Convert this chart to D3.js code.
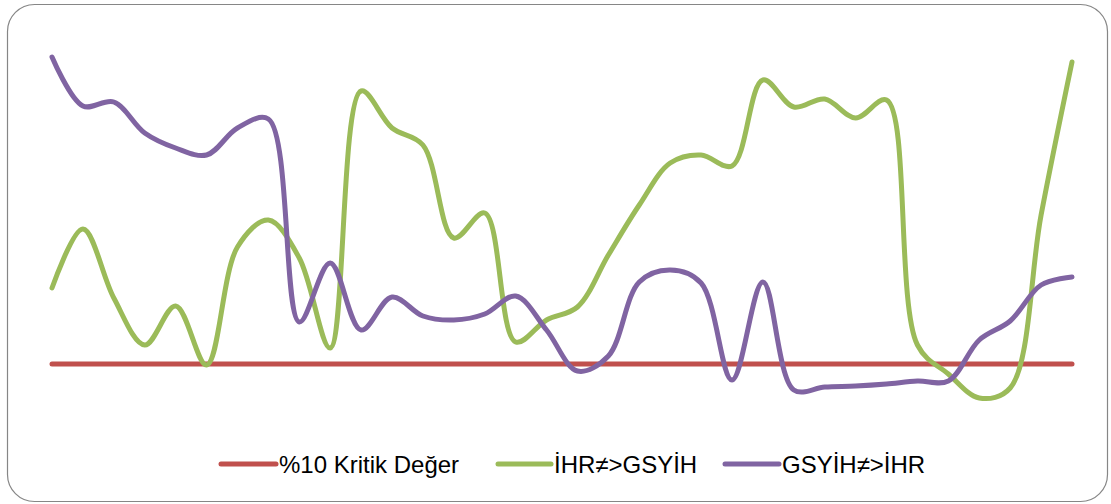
<!DOCTYPE html>
<html>
<head>
<meta charset="utf-8">
<script src="https://cdn.jsdelivr.net/npm/d3@7"></script>
<style>
  html, body { margin: 0; padding: 0; background: #fff; }
  svg { display: block; }
</style>
</head>
<body>
<svg id="chart" width="1111" height="504"></svg>
<script>
// ---- data (the value axis is hidden in the original) ----
const categories = d3.range(1, 35).map(String); // 34 periods
const critical10 = [5.0,5.0,5.0,5.0,5.0,5.0,5.0,5.0,5.0,5.0,5.0,5.0,5.0,5.0,5.0,5.0,5.0,
                    5.0,5.0,5.0,5.0,5.0,5.0,5.0,5.0,5.0,5.0,5.0,5.0,5.0,5.0,5.0,5.0,5.0];
const ihrToGsyih = [12.6,18.5,11.6,6.9,10.8,4.9,16.7,19.4,15.6,6.6,32.3,28.6,26.9,17.6,20.1,7.2,9.4,
                    10.7,15.9,20.9,25.1,25.9,24.8,33.4,30.7,31.5,29.6,31.4,6.9,4.0,1.6,2.6,19.9,35.2];
const gsyihToIhr = [35.7,30.8,31.2,28.1,26.6,25.9,28.6,29.5,9.2,15.1,8.4,11.7,9.8,9.4,10.0,11.8,8.4,
                    4.3,5.8,13.2,14.4,13.1,3.4,13.2,2.4,2.7,2.8,3.0,3.3,3.3,7.4,9.3,12.9,13.7];
const seriesNames = ["%10 Kritik Değer", "İHR≠>GSYİH", "GSYİH≠>İHR"];
const seriesColors = ["#C0504D", "#9BBB59", "#8064A2"];

const series = [critical10, ihrToGsyih, gsyihToIhr];

const svg = d3.select("#chart");

// outer chart border
svg.append("rect")
  .attr("x", 7.5).attr("y", 4.5)
  .attr("width", 1100).attr("height", 497)
  .attr("rx", 27).attr("ry", 27)
  .attr("fill", "#fff")
  .attr("stroke", "#868686")
  .attr("stroke-width", 1.2);

const x = d3.scalePoint().domain(categories).range([52, 1072]);
const y = d3.scaleLinear().domain([0, 37]).range([414, 44]);

const line = d3.line()
  .x((d, i) => x(categories[i]))
  .y(d => y(d))
  .curve(d3.curveCatmullRom.alpha(0.5));

const g = svg.append("g");
series.forEach((s, k) => {
  g.append("path")
    .datum(s)
    .attr("d", line)
    .attr("fill", "none")
    .attr("stroke", seriesColors[k])
    .attr("stroke-width", 5)
    .attr("stroke-linecap", "round")
    .attr("stroke-linejoin", "round");
});

// legend
const legendItems = [
  { x0: 221, x1: 276, tx: 279 },
  { x0: 498, x1: 551, tx: 554 },
  { x0: 725, x1: 779, tx: 782 }
];
const lg = svg.append("g");
legendItems.forEach((it, k) => {
  lg.append("line")
    .attr("x1", it.x0).attr("x2", it.x1)
    .attr("y1", 464).attr("y2", 464)
    .attr("stroke", seriesColors[k])
    .attr("stroke-width", 5)
    .attr("stroke-linecap", "round");
  lg.append("text")
    .attr("x", it.tx).attr("y", 473)
    .attr("font-family", "'Liberation Sans', Arial, sans-serif")
    .attr("font-size", 24)
    .attr("fill", "#000")
    .text(seriesNames[k]);
});
</script>
</body>
</html>
